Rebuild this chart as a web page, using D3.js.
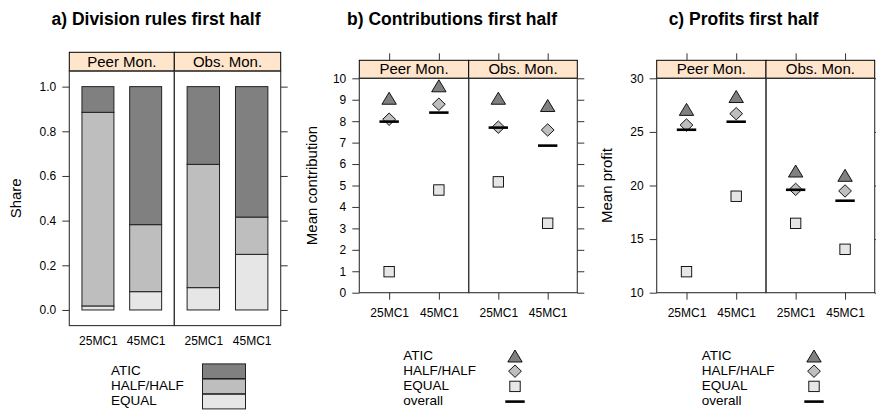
<!DOCTYPE html>
<html>
<head>
<meta charset="utf-8">
<script src="https://cdn.jsdelivr.net/npm/d3@7"></script>
<style>
  body { margin: 0; background: #fff; }
  svg { font-family: "Liberation Sans", Arial, Helvetica, sans-serif; }
</style>
</head>
<body>
<div id="chart"></div>
<script>
// facets and categories
var groups = ["Peer Mon.", "Obs. Mon."];
var treatments = ["25MC1", "45MC1"];
var rules = ["ATIC", "HALF/HALF", "EQUAL"];

// a) shares, order: Peer 25MC1, Peer 45MC1, Obs 25MC1, Obs 45MC1
var shareEqual = [0.018, 0.082, 0.100, 0.249];
var shareHalf  = [0.867, 0.300, 0.552, 0.167];
var shareAtic  = [0.115, 0.618, 0.348, 0.584];

// b) mean contributions
var contribAtic    = [9.07, 9.65, 9.07, 8.73];
var contribHalf    = [8.09, 8.79, 7.72, 7.59];
var contribEqual   = [0.98, 4.79, 5.17, 3.24];
var contribOverall = [7.98, 8.40, 7.70, 6.86];

// c) mean profits
var profitAtic    = [27.10, 28.30, 21.35, 20.95];
var profitHalf    = [25.64, 26.70, 19.64, 19.49];
var profitEqual   = [11.96, 19.00, 16.47, 14.05];
var profitOverall = [25.20, 25.95, 19.60, 18.58];

var shareTicks = [0, 0.2, 0.4, 0.6, 0.8, 1.0];
var contribTicks = [0,1,2,3,4,5,6,7,8,9,10];
var profitTicks = [10, 15, 20, 25, 30];

var col = { ATIC: "#808080", "HALF/HALF": "#bebebe", EQUAL: "#e6e6e6", strip: "#ffe5cc" };
var frameCol = "#333";

var svg = d3.select("#chart").append("svg")
	.attr("width", 876)
	.attr("height", 412);

function symbol(g, type, x, y){
	if (type === "ATIC"){
		g.append("path")
			.attr("d", "M" + x + "," + (y - 6) + "L" + (x + 7.2) + "," + (y + 6) + "L" + (x - 7.2) + "," + (y + 6) + "Z")
			.attr("fill", col.ATIC).attr("stroke", "#000").attr("stroke-width", 0.9);
	} else if (type === "HALF/HALF"){
		g.append("path")
			.attr("d", "M" + x + "," + (y - 6.2) + "L" + (x + 6.4) + "," + y + "L" + x + "," + (y + 6.2) + "L" + (x - 6.4) + "," + y + "Z")
			.attr("fill", col["HALF/HALF"]).attr("stroke", "#000").attr("stroke-width", 0.9);
	} else if (type === "EQUAL"){
		g.append("rect")
			.attr("x", x - 5.2).attr("y", y - 5.2).attr("width", 10.4).attr("height", 10.4)
			.attr("fill", col.EQUAL).attr("stroke", "#000").attr("stroke-width", 0.9);
	} else {
		g.append("line")
			.attr("x1", x - 9.7).attr("x2", x + 9.7).attr("y1", y).attr("y2", y)
			.attr("stroke", "#000").attr("stroke-width", 2.6);
	}
}

function panel(cfg){
	var g = svg.append("g");
	var y = d3.scaleLinear().domain(cfg.domain).range([cfg.bottom, cfg.top]);
	var facets = [[cfg.x0, cfg.xm], [cfg.xm, cfg.x1]];

	// title
	g.append("text")
		.attr("x", cfg.titleX).attr("y", 25)
		.attr("text-anchor", "middle")
		.attr("font-size", 17.5).attr("font-weight", "bold")
		.text(cfg.title);

	// y label
	g.append("text")
		.attr("transform", "translate(" + cfg.labelX + "," + ((cfg.top + cfg.bottom) / 2) + ") rotate(-90)")
		.attr("text-anchor", "middle")
		.attr("dominant-baseline", "middle")
		.attr("font-size", 15)
		.text(cfg.ylabel);

	// left axis
	var left = g.append("g")
		.attr("transform", "translate(" + cfg.x0 + ",0)")
		.call(d3.axisLeft(y).tickValues(cfg.ticks).tickFormat(cfg.fmt).tickSize(7).tickPadding(6))
		.attr("font-family", null).attr("font-size", 12);
	left.select(".domain").remove();

	var right = g.append("g")
		.attr("transform", "translate(" + cfg.x1 + ",0)")
		.call(d3.axisRight(y).tickValues(cfg.ticks).tickFormat("").tickSize(7));
	right.select(".domain").remove();

	facets.forEach(function(f, fi){
		var x = d3.scalePoint().domain(treatments).range(f).padding(0.6);
		var fg = g.append("g");

		// strip
		fg.append("rect")
			.attr("x", f[0]).attr("y", cfg.stripTop)
			.attr("width", f[1] - f[0]).attr("height", cfg.top - cfg.stripTop)
			.attr("fill", col.strip).attr("stroke", "#000").attr("stroke-width", 1);
		fg.append("text")
			.attr("x", (f[0] + f[1]) / 2).attr("y", (cfg.stripTop + cfg.top) / 2 + 1)
			.attr("text-anchor", "middle").attr("dominant-baseline", "middle")
			.attr("font-size", 15)
			.text(groups[fi]);

		// bottom axis
		var bot = fg.append("g")
			.attr("transform", "translate(0," + cfg.bottom + ")")
			.call(d3.axisBottom(x).tickSize(cfg.xticks ? 7 : 0).tickPadding(cfg.xticks ? 9 : 11))
			.attr("font-family", null).attr("font-size", 12);
		bot.select(".domain").remove();

		if (cfg.xticks){
			var top = fg.append("g")
				.attr("transform", "translate(0," + cfg.stripTop + ")")
				.call(d3.axisTop(x).tickFormat("").tickSize(7));
			top.select(".domain").remove();
		}

		cfg.draw(fg, x, y, fi);

		// frame
		fg.append("rect")
			.attr("x", f[0]).attr("y", cfg.top)
			.attr("width", f[1] - f[0]).attr("height", cfg.bottom - cfg.top)
			.attr("fill", "none").attr("stroke", frameCol).attr("stroke-width", 1.1);
	});

	g.selectAll(".tick line").attr("stroke", frameCol);
	return g;
}

// a) stacked bars
panel({
	title: "a) Division rules first half", titleX: 156,
	ylabel: "Share", labelX: 17,
	x0: 69.3, xm: 174.3, x1: 280.7,
	stripTop: 52.3, top: 71, bottom: 325.6,
	domain: [-0.07, 1.07], ticks: shareTicks, fmt: d3.format(".1f"),
	xticks: false,
	draw: function(fg, x, y, fi){
		var bw = x.step() * 0.67;
		treatments.forEach(function(t, ti){
			var i = fi * 2 + ti;
			var parts = [["EQUAL", shareEqual[i]], ["HALF/HALF", shareHalf[i]], ["ATIC", shareAtic[i]]];
			var acc = 0;
			parts.forEach(function(p){
				fg.append("rect")
					.attr("x", x(t) - bw / 2).attr("width", bw)
					.attr("y", y(acc + p[1])).attr("height", y(acc) - y(acc + p[1]))
					.attr("fill", col[p[0]]).attr("stroke", "#222").attr("stroke-width", 1);
				acc += p[1];
			});
		});
	}
});

function pointDraw(atic, half, equal, overall){
	return function(fg, x, y, fi){
		treatments.forEach(function(t, ti){
			var i = fi * 2 + ti;
			symbol(fg, "ATIC", x(t), y(atic[i]));
			symbol(fg, "HALF/HALF", x(t), y(half[i]));
			symbol(fg, "EQUAL", x(t), y(equal[i]));
			symbol(fg, "overall", x(t), y(overall[i]));
		});
	};
}

// b) contributions
panel({
	title: "b) Contributions first half", titleX: 452,
	ylabel: "Mean contribution", labelX: 313.5,
	x0: 359.3, xm: 468.7, x1: 577.3,
	stripTop: 60.3, top: 78.3, bottom: 292.7,
	domain: [0, 10], ticks: contribTicks, fmt: d3.format("d"),
	xticks: true,
	draw: pointDraw(contribAtic, contribHalf, contribEqual, contribOverall)
});

// c) profits
panel({
	title: "c) Profits first half", titleX: 743.5,
	ylabel: "Mean profit", labelX: 608.5,
	x0: 656.7, xm: 766, x1: 874.7,
	stripTop: 60.3, top: 78.3, bottom: 292.7,
	domain: [10, 30], ticks: profitTicks, fmt: d3.format("d"),
	xticks: true,
	draw: pointDraw(profitAtic, profitHalf, profitEqual, profitOverall)
});

// legends (bottom aligned rows)
var rowY = [356, 371.2, 386.4, 401.6];
var legendFont = 13.5;

var la = svg.append("g");
rules.forEach(function(r, i){
	la.append("text")
		.attr("x", 111).attr("y", rowY[i + 1])
		.attr("dominant-baseline", "middle").attr("font-size", legendFont)
		.text(r);
	la.append("rect")
		.attr("x", 202.5).attr("width", 43)
		.attr("y", rowY[i + 1] - 7.3).attr("height", 14.6)
		.attr("fill", col[r]).attr("stroke", "#222").attr("stroke-width", 1);
});

var keys = rules.concat(["overall"]);
[[403.3, 515], [701.7, 814]].forEach(function(pos){
	var lg = svg.append("g");
	keys.forEach(function(k, i){
		lg.append("text")
			.attr("x", pos[0]).attr("y", rowY[i])
			.attr("dominant-baseline", "middle").attr("font-size", legendFont)
			.text(k);
		symbol(lg, k, pos[1], rowY[i]);
	});
});
</script>
</body>
</html>
